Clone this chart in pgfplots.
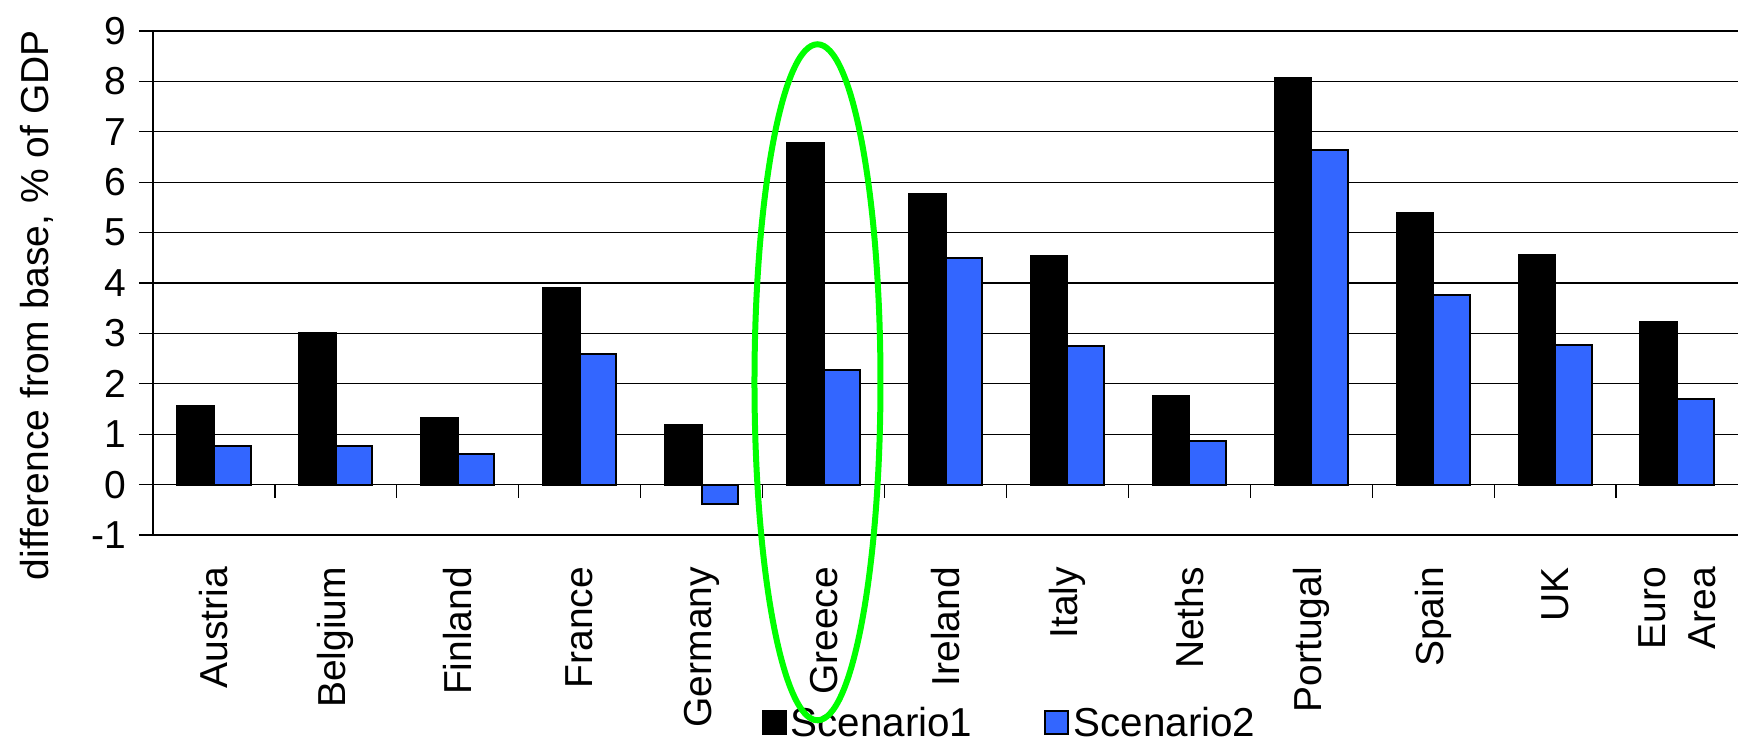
\documentclass[border=0pt]{standalone}
\usepackage{fontspec}
\setmainfont{Liberation Sans}
\usepackage{pgfplots}
\pgfplotsset{compat=1.18}
\definecolor{scenblue}{RGB}{51,102,255}
\definecolor{ellgreen}{RGB}{0,255,0}
\newcommand\fs{\fontsize{19.5}{25}\selectfont}
\newcommand\fsl{\fontsize{20.2}{25}\selectfont}
\begin{document}
\begin{tikzpicture}
\path[use as bounding box] (-76.5pt,-103.5pt) rectangle (792.5pt,267.5pt);
\begin{axis}[
  at={(0,0)}, anchor=south west,
  scale only axis,
  width=792.5pt, height=252pt,
  ymin=-1, ymax=9,
  xmin=-0.5, xmax=12.5,
  ytick={-1,0,...,9},
  xtick={0,...,12},
  xticklabels={Austria,Belgium,Finland,France,Germany,Greece,Ireland,Italy,Neths,Portugal,Spain,UK,{Euro\\Area}},
  axis line style={draw=none},
  axis x line*=bottom,
  axis y line*=left,
  ymajorgrids,
  grid style={black, line width=0.6pt},
  tick align=outside,
  x tick style={draw=none},
  y tick style={black, line width=0.6pt},
  major tick length=7pt,
  /pgf/number format/assume math mode=true,
  tick label style={font=\fs},
  xticklabel style={rotate=90, anchor=east, align=right},
  xticklabel shift=5.5pt,
  yticklabel style={xshift=-3pt},
  ylabel={difference from base, \% of GDP},
  ylabel style={font=\fs, at={(axis description cs:-0.0732,0.456)}, anchor=center},
  ybar=0pt,
  bar width=18.3pt,
  clip=false,
  legend style={font=\fsl, draw=none, fill=none, at={(0.541,-0.373)}, anchor=center,
    legend columns=2, /tikz/every even column/.append style={column sep=34pt},
    inner sep=0pt, cells={anchor=west}},
]
\addplot[fill=black, draw=black, line width=1pt,
  legend image code/.code={\draw[fill=black,draw=black,line width=1pt] (0pt,-5.75pt) rectangle (11.5pt,5.75pt);}]
  coordinates {(0,1.55) (1,3.00) (2,1.32) (3,3.91) (4,1.18) (5,6.78) (6,5.76) (7,4.54) (8,1.75) (9,8.07) (10,5.39) (11,4.55) (12,3.22)};
\addlegendentry{Scenario1}
\addplot[fill=scenblue, draw=black, line width=1pt,
  legend image code/.code={\draw[fill=scenblue,draw=black,line width=1pt] (0pt,-5.75pt) rectangle (11.5pt,5.75pt);}]
  coordinates {(0,0.76) (1,0.76) (2,0.61) (3,2.59) (4,-0.38) (5,2.27) (6,4.50) (7,2.75) (8,0.87) (9,6.64) (10,3.77) (11,2.76) (12,1.69)};
\addlegendentry{Scenario2}
\draw[black, line width=0.6pt] (axis cs:-0.5,-1) -- (axis cs:-0.5,9);
\draw[black, line width=0.6pt]
  (axis cs:0.5,0) -- ([yshift=-6.5pt]axis cs:0.5,0)
  (axis cs:1.5,0) -- ([yshift=-6.5pt]axis cs:1.5,0)
  (axis cs:2.5,0) -- ([yshift=-6.5pt]axis cs:2.5,0)
  (axis cs:3.5,0) -- ([yshift=-6.5pt]axis cs:3.5,0)
  (axis cs:4.5,0) -- ([yshift=-6.5pt]axis cs:4.5,0)
  (axis cs:5.5,0) -- ([yshift=-6.5pt]axis cs:5.5,0)
  (axis cs:6.5,0) -- ([yshift=-6.5pt]axis cs:6.5,0)
  (axis cs:7.5,0) -- ([yshift=-6.5pt]axis cs:7.5,0)
  (axis cs:8.5,0) -- ([yshift=-6.5pt]axis cs:8.5,0)
  (axis cs:9.5,0) -- ([yshift=-6.5pt]axis cs:9.5,0)
  (axis cs:10.5,0) -- ([yshift=-6.5pt]axis cs:10.5,0)
  (axis cs:11.5,0) -- ([yshift=-6.5pt]axis cs:11.5,0);
\coordinate (gc) at (axis cs:4.95,2.03);
\end{axis}
\draw[ellgreen, line width=3pt] (gc) ellipse [x radius=31.5pt, y radius=169pt];
\end{tikzpicture}
\end{document}
